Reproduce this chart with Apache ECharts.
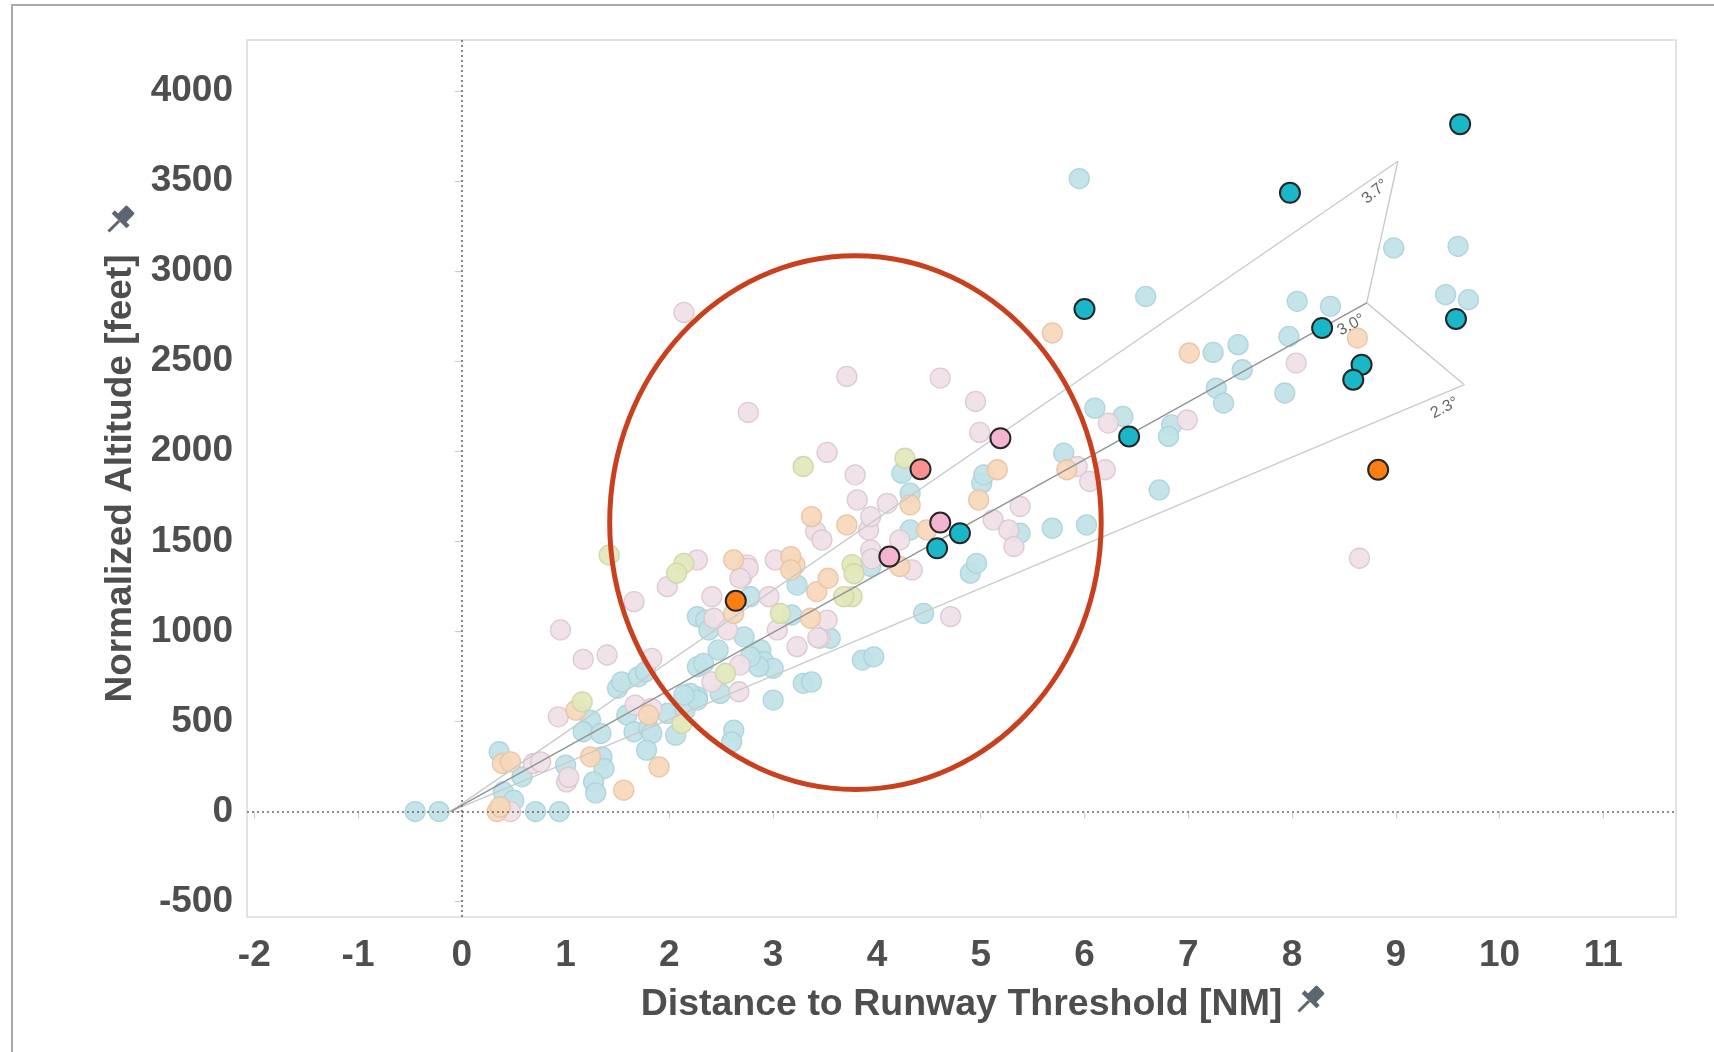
<!DOCTYPE html>
<html>
<head>
<meta charset="utf-8">
<script src="https://cdn.jsdelivr.net/npm/echarts@6/dist/echarts.min.js"></script>
<style>
html,body{margin:0;padding:0;background:#fff;}
#chart{width:1714px;height:1052px;}
</style>
</head>
<body>
<div id="chart"></div>
<script>
// ---------- DATA ----------
const xTicks = [-2,-1,0,1,2,3,4,5,6,7,8,9,10,11];
const yTicks = [-500,0,500,1000,1500,2000,2500,3000,3500,4000];

// faded (non-highlighted) flights
const tealFaded = [
 [-0.45,0],[-0.22,0],[0.71,0],[0.94,0],
 [0.36,332],[0.58,193],[0.40,109],[0.50,63],[1.00,258],[1.35,304],[1.37,239],[1.27,165],[1.29,104],
 [1.24,508],[1.17,443],[1.34,434],[1.50,684],[1.54,720],[1.70,748],[1.77,776],[1.59,536],[1.66,443],
 [1.80,462],[1.83,434],[1.78,341],[2.06,424],[1.98,545],[2.15,563],[2.27,637],[2.27,804],[2.27,1082],
 [2.78,1193],[2.35,1063],[2.38,1008],[2.72,970],[2.47,897],[2.33,823],[2.20,656],[2.27,619],[2.14,647],
 [2.49,656],[2.88,897],[2.91,832],[3.00,795],[2.86,804],[2.78,859],[3.18,1091],[3.55,962],[3.86,841],
 [3.97,859],[3.29,712],[3.37,720],[3.00,619],[2.62,452],[2.60,387],[4.45,1100],[4.90,1323],[4.96,1378],
 [3.23,1257],[3.94,1360],
 [4.24,1878],[4.32,1767],[4.32,1563],[5.01,1823],[5.03,1869],[5.38,1545],[5.69,1573],[6.02,1591],
 [5.80,1989],[6.10,2239],[6.37,2193],
 [5.95,3513],[6.59,2859],[8.98,3128],[9.60,3137],[9.48,2869],[9.70,2841],[8.05,2832],[8.37,2804],
 [7.97,2637],[7.93,2323],[7.24,2548],[7.48,2591],[7.52,2452],[7.27,2350],[7.34,2267],[6.84,2146],
 [6.81,2082],[6.72,1785]
];
const orangeFaded = [
 [0.34,0],[0.37,26],[0.39,267],[0.47,276],[1.24,304],[1.56,119],[1.90,248],[1.10,563],[1.80,536],
 [2.62,1100],[3.42,1221],[3.53,1295],[3.21,1369],[3.36,1073],[2.62,1397],[3.17,1415],[3.17,1341],
 [3.37,1637],[3.71,1591],[4.32,1702],[4.48,1563],[4.22,1360],[5.16,1897],[4.98,1730],[5.83,1897],
 [5.69,2656],[7.01,2545],[8.63,2628]
];
const pinkFaded = [
 [0.47,0],[0.69,267],[0.76,276],[1.01,165],[1.03,190],[0.95,1008],[1.17,845],[1.40,869],[0.93,526],
 [1.67,591],[1.83,573],[1.83,850],[1.66,1165],[2.41,1193],[2.96,1193],[2.43,1073],[2.56,1008],
 [2.68,813],[2.41,720],[2.67,665],[3.04,1008],[3.23,915],[3.45,962],[3.52,1063],[2.75,1369],[2.70,1304],
 [4.71,1082],[3.71,2415],[2.76,2215],[3.52,1993],[3.79,1869],[3.81,1730],[3.41,1554],[3.47,1508],
 [2.27,1397],[2.76,1350],[3.02,1397],[2.68,1295],[1.98,1248],[2.14,2770],[4.61,2406],[4.95,2276],
 [4.99,2104],[4.10,1711],[3.92,1563],[3.94,1637],[4.22,1508],[3.94,1452],[4.34,1341],[5.38,1693],
 [5.12,1619],[5.27,1563],[5.32,1471],[5.93,1915],[6.05,1832],[6.20,1897],[6.23,2156],[6.99,2174],
 [8.04,2489],[8.65,1406],[3.95,1403],[3.43,965]
];
const oliveFaded = [
 [1.16,609],[2.12,489],[2.54,767],[3.07,1100],[3.76,1193],[3.68,1193],[3.76,1370],[3.78,1320],
 [3.29,1915],[1.42,1424],[2.14,1378],[2.07,1323],[4.27,1961]
];

// highlighted flights
const tealHi = [[9.62,3815],[7.98,3434],[6.00,2789],[8.29,2684],[9.58,2734],[8.67,2480],[8.59,2397],[6.43,2082],[4.80,1545],[4.58,1461]];
const orangeHi = [[2.64,1170],[8.83,1897]];
const pinkHi = [[5.19,2072],[4.61,1604],[4.12,1415]];
const salmonHi = [[4.42,1900]];

// glide-slope wedge (distance NM, altitude ft)
const glideOrigin = [-0.11, 0];
const glideTip37 = [9.02, 3609];
const glideTip30 = [8.72, 2823];
const glideTip23 = [9.66, 2369];
const glideLabels = [
 {name:'3.7°', value:[8.80, 3440]},
 {name:'3.0°', value:[8.57, 2700]},
 {name:'2.3°', value:[9.47, 2240]}
];

// highlighted region (centre x, centre y, radius x NM, radius y ft)
const ellipseData = [[3.793, 1604, 2.368, 1481]];

// ---------- CHART ----------
const chart = echarts.init(document.getElementById('chart'), null, {renderer:'canvas'});
const FONT = '"Liberation Sans", Arial, sans-serif';
const TXT = '#4e4e4e';

function faded(data, fill, border){
  return {type:'scatter', data:data, symbolSize:20, z:2,
    itemStyle:{color:fill, borderColor:border, borderWidth:1.3, opacity:0.92}, silent:true};
}
function hi(data, fill){
  return {type:'scatter', data:data, symbolSize:20, z:5,
    itemStyle:{color:fill, borderColor:'#262626', borderWidth:2, opacity:1}, silent:true};
}
const lineStyleLight = {color:'#c8cbcc', width:1.4};
const wedgeLabelRot = [40, 29, 27];

function pin(x, y){
  return {type:'group', x:x, y:y, rotation:-Math.PI/4, scaleX:1.5, scaleY:1.5, silent:true, children:[
    {type:'rect', shape:{x:-4, y:-12, width:8, height:9, r:1}, style:{fill:'#5c6670'}},
    {type:'rect', shape:{x:-7, y:-4, width:14, height:3}, style:{fill:'#5c6670'}},
    {type:'line', shape:{x1:0, y1:-1, x2:0, y2:9}, style:{stroke:'#5c6670', lineWidth:2}}
  ]};
}

chart.setOption({
  animation:false,
  backgroundColor:'#ffffff',
  grid:{left:247, top:40, right:38, bottom:135, show:true, borderColor:'#dadada', borderWidth:1.5, backgroundColor:'transparent'},
  xAxis:{type:'value', min:-2.07, max:11.70,
    name:'Distance to Runway Threshold [NM]', nameLocation:'middle', nameGap:69,
    nameTextStyle:{fontFamily:FONT, fontWeight:'bold', fontSize:37.5, color:TXT},
    axisLine:{show:false}, splitLine:{show:false},
    axisTick:{show:true, length:7, customValues:xTicks, lineStyle:{color:'#d0d0d0', width:1.2}},
    axisLabel:{customValues:xTicks, margin:20, fontFamily:FONT, fontWeight:'bold', fontSize:37, color:TXT,
      formatter:function(v){return String(v);}}
  },
  yAxis:{type:'value', min:-585, max:4282,
    name:'Normalized Altitude [feet]', nameLocation:'middle', nameGap:97, nameRotate:90,
    nameTextStyle:{fontFamily:FONT, fontWeight:'bold', fontSize:37, color:TXT},
    axisLine:{show:false}, splitLine:{show:false},
    axisTick:{show:true, length:7, customValues:yTicks, lineStyle:{color:'#d0d0d0', width:1.2}},
    axisLabel:{customValues:yTicks, margin:14, fontFamily:FONT, fontWeight:'bold', fontSize:37, color:TXT,
      formatter:function(v){return String(v);}}
  },
  series:[
    {type:'line', data:[], silent:true, z:1,
      markLine:{silent:true, symbol:['none','none'], label:{show:false},
        lineStyle:{type:[2,3], color:'#6a6a6a', width:1.6},
        data:[{xAxis:0},{yAxis:0}]}},
    faded(tealFaded, '#bfe2e7', '#a9d3d9'),
    faded(pinkFaded, '#efdfe6', '#d9c7d0'),
    faded(orangeFaded, '#f6d7ba', '#e6c3a4'),
    faded(oliveFaded, '#e3e7bb', '#cfd4a5'),
    {type:'line', data:[glideOrigin, glideTip37, glideTip30, glideTip23, glideOrigin],
      symbol:'none', lineStyle:lineStyleLight, z:3, silent:true},
    {type:'line', data:[glideOrigin, glideTip30], symbol:'none',
      lineStyle:{color:'#8f9494', width:1.4}, z:3, silent:true},
    {type:'scatter', symbolSize:0, z:4, silent:true,
      data:glideLabels.map((d,i)=>({name:d.name, value:d.value,
        label:{show:true, formatter:d.name, rotate:wedgeLabelRot[i], position:'inside',
          fontFamily:FONT, fontSize:16, color:'#3c3c3c'}}))},
    hi(tealHi, '#19b7c8'),
    hi(orangeHi, '#fb7f10'),
    hi(pinkHi, '#f4b5d1'),
    hi(salmonHi, '#f99191'),
    {type:'custom', data:ellipseData, z:10, silent:true, clip:false,
      encode:{x:0, y:1},
      renderItem:function(params, api){
        const cx = api.value(0), cy = api.value(1), rx = api.value(2), ry = api.value(3);
        const c = api.coord([cx, cy]);
        const ex = api.coord([cx+rx, cy]);
        const ey = api.coord([cx, cy+ry]);
        return {type:'ellipse', shape:{cx:c[0], cy:c[1], rx:ex[0]-c[0], ry:c[1]-ey[1]},
          style:{fill:null, stroke:'#c9401f', lineWidth:5}};
      }}
  ],
  graphic:[
    {type:'rect', shape:{x:12, y:5, width:1800, height:1200}, style:{fill:null, stroke:'#a9a9a9', lineWidth:2}, silent:true, z:0},
    pin(1308, 1002),
    pin(118, 222)
  ]
});
</script>
</body>
</html>
